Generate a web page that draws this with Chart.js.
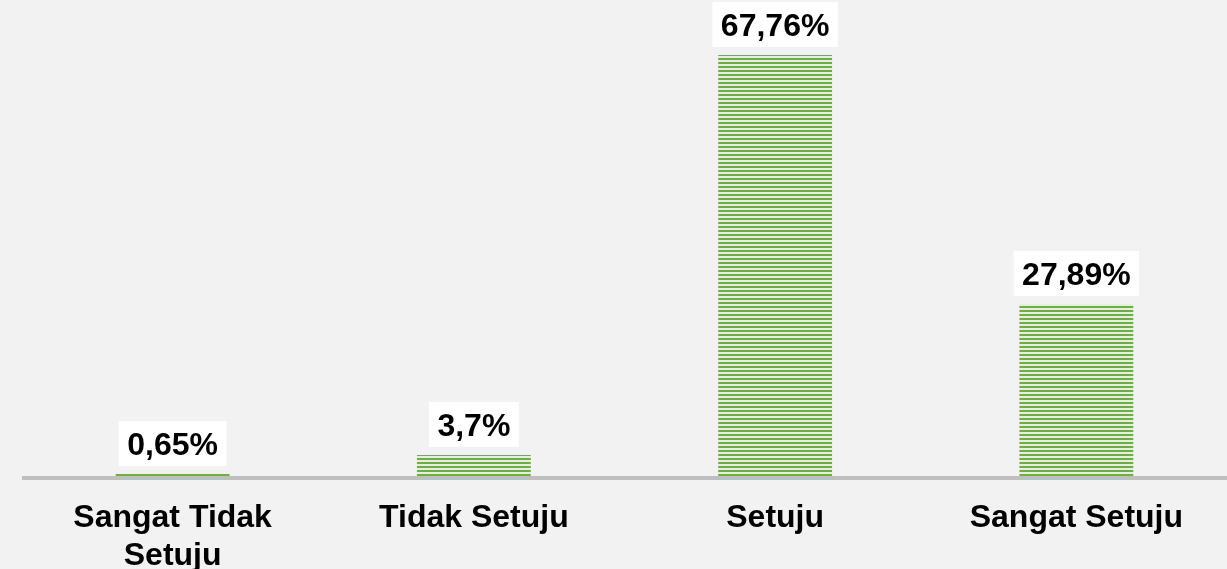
<!DOCTYPE html>
<html>
<head>
<meta charset="utf-8">
<script src="https://cdn.jsdelivr.net/npm/chart.js@4/dist/chart.umd.min.js"></script>
<style>
  html, body { margin: 0; padding: 0; background: #F2F2F2; }
  #wrap { width: 1227px; height: 569px; }
</style>
</head>
<body>
<div id="wrap"><canvas id="myChart" width="1227" height="569"></canvas></div>
<script>
// jawaban responden
var categories = [['Sangat Tidak', 'Setuju'], 'Tidak Setuju', 'Setuju', 'Sangat Setuju']
var percentages = [0.65, 3.7, 67.76, 27.89]

var FONT = '"Liberation Sans", Arial, sans-serif'

// garis-garis horizontal di batang
function stripePattern() {
  var c = document.createElement('canvas')
  c.width = 4
  c.height = 4
  var g = c.getContext('2d')
  g.fillStyle = '#E4F0DC'
  g.fillRect(0, 0, 4, 4)
  g.fillStyle = '#70AD47'
  g.fillRect(0, 2, 4, 2)
  return g.createPattern(c, 'repeat')
}

function formatPct(v) {
  return String(v).replace('.', ',') + '%'
}

// garis sumbu bawah
var axisLine = {
  id: 'axisLine',
  afterDatasetsDraw: function (chart) {
    var ctx = chart.ctx
    var y = chart.scales.y.getPixelForValue(0)
    ctx.save()
    ctx.strokeStyle = '#BFBFBF'
    ctx.lineWidth = 4
    ctx.beginPath()
    ctx.moveTo(chart.chartArea.left, y)
    ctx.lineTo(chart.chartArea.right, y)
    ctx.stroke()
    ctx.restore()
  }
}

// label nilai dengan kotak putih
var valueLabels = {
  id: 'valueLabels',
  afterDraw: function (chart) {
    var ctx = chart.ctx
    var meta = chart.getDatasetMeta(0)
    ctx.save()
    ctx.font = 'bold 32px ' + FONT
    meta.data.forEach(function (bar, i) {
      var text = formatPct(percentages[i])
      var w = ctx.measureText(text).width
      var boxW = w + 17
      var boxH = 45
      var bottom = bar.y - 8
      ctx.fillStyle = '#FFFFFF'
      ctx.fillRect(bar.x - boxW / 2, bottom - boxH, boxW, boxH)
      ctx.fillStyle = '#000000'
      ctx.textAlign = 'center'
      ctx.textBaseline = 'alphabetic'
      ctx.fillText(text, bar.x, bottom - boxH / 2 + 11.5)
    })
    ctx.restore()
  }
}

var ctx = document.getElementById('myChart').getContext('2d')
var chart = new Chart(ctx, {
  type: 'bar',
  data: {
    labels: categories,
    datasets: [{
      data: percentages,
      backgroundColor: stripePattern(),
      borderWidth: 0,
      categoryPercentage: 1,
      barPercentage: 0.378
    }]
  },
  options: {
    responsive: false,
    animation: false,
    layout: { padding: { left: 22, right: 0, top: 0, bottom: 0 } },
    plugins: { legend: { display: false }, tooltip: { enabled: false } },
    scales: {
      y: { display: false, min: 0, max: 76.57 },
      x: {
        grid: { display: false },
        border: { display: false },
        ticks: {
          color: '#000000',
          font: { family: FONT, size: 32, weight: 'bold', lineHeight: 1.16 },
          padding: 14,
          maxRotation: 0,
          autoSkip: false
        },
        afterFit: function (scale) { scale.height = 91 }
      }
    }
  },
  plugins: [axisLine, valueLabels]
})
</script>
</body>
</html>
